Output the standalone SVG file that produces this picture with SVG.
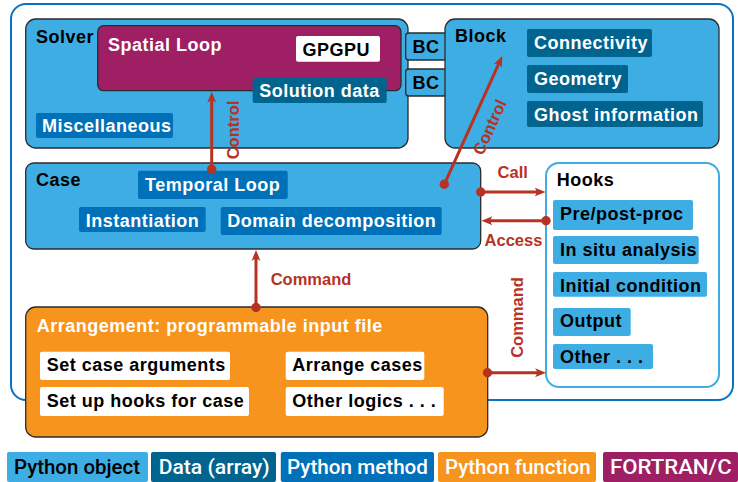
<svg xmlns="http://www.w3.org/2000/svg" width="738" height="482" viewBox="0 0 738 482">
<defs>
<style>
.t{font-family:"Liberation Sans",Arial,sans-serif;font-weight:bold;font-size:18px;letter-spacing:0.5px}
.w{fill:#ffffff}
.k{fill:#000000}
.lbl{font-family:"Liberation Sans",Arial,sans-serif;font-weight:bold;font-size:16.5px;fill:#b83223}
.obj{fill:#3eade3}
.data{fill:#00648f}
.meth{fill:#0070b8}
.func{fill:#f7941d}
.fort{fill:#9e1f63}
.cont{stroke:#2b2b2b;stroke-width:1.3}
.item{rx:2;ry:2}
.con{stroke:#b83223;stroke-width:3;fill:none}
.dot{fill:#b83223}
.leg{font-family:Roboto,"Liberation Sans",sans-serif;font-weight:500;font-size:20px}
</style>
<marker id="ah" markerUnits="userSpaceOnUse" viewBox="0 -5 12 10" markerWidth="12" markerHeight="10" refX="2.5" refY="0" orient="auto">
<path d="M11 0 L0 -4.5 Q4 0 0 4.5 Z" fill="#b83223"/>
</marker>
</defs>

<rect id="frame" x="11" y="4" width="722" height="396" rx="15" fill="#ffffff" stroke="#0a72c2" stroke-width="2"/>

<g id="solver">
<rect class="obj cont" x="25.7" y="19" width="382.3" height="129" rx="10"/>
<text class="t k" x="36" y="43.3">Solver</text>
</g>
<g id="spatial-loop">
<rect class="fort cont" x="97.7" y="25.7" width="303.3" height="65" rx="6"/>
<text class="t w" x="108" y="50.5">Spatial Loop</text>
</g>
<g id="gpgpu">
<rect class="item" fill="#ffffff" x="296" y="36" width="84" height="25.7"/>
<text class="t k" x="302.5" y="55.5">GPGPU</text>
</g>
<g id="solution-data">
<rect class="data item" x="252.7" y="78" width="134" height="25"/>
<text class="t w" x="259.3" y="97.3">Solution data</text>
</g>
<g id="miscellaneous">
<rect class="meth item" x="36" y="113" width="137" height="25"/>
<text class="t w" x="42" y="132.3">Miscellaneous</text>
</g>

<g id="bc1">
<rect class="obj cont" x="405.7" y="33" width="41" height="27" rx="3"/>
<text class="t k" x="412.5" y="53.3">BC</text>
</g>
<g id="bc2">
<rect class="obj cont" x="405.7" y="69" width="41" height="27" rx="3"/>
<text class="t k" x="412.5" y="89.3">BC</text>
</g>

<g id="block">
<rect class="obj cont" x="445" y="19" width="274" height="129" rx="10"/>
<text class="t k" x="455" y="42.3">Block</text>
</g>
<g id="connectivity">
<rect class="data item" x="527" y="29" width="125" height="28"/>
<text class="t w" x="534" y="49">Connectivity</text>
</g>
<g id="geometry">
<rect class="data item" x="527" y="65" width="101" height="28"/>
<text class="t w" x="534" y="85">Geometry</text>
</g>
<g id="ghost-information">
<rect class="data item" x="527" y="101" width="176" height="26"/>
<text class="t w" x="534" y="120.7">Ghost information</text>
</g>

<g id="case">
<rect class="obj cont" x="25.7" y="163" width="455" height="86" rx="8"/>
<text class="t k" x="36" y="186">Case</text>
</g>
<g id="temporal-loop">
<rect class="meth item" x="138" y="170.7" width="149.7" height="28.3"/>
<text class="t w" x="145" y="191">Temporal Loop</text>
</g>
<g id="instantiation">
<rect class="meth item" x="79" y="207" width="126.7" height="25"/>
<text class="t w" x="85.7" y="226.7">Instantiation</text>
</g>
<g id="domain-decomposition">
<rect class="meth item" x="220.7" y="207" width="221" height="28"/>
<text class="t w" x="227.3" y="226.7">Domain decomposition</text>
</g>

<g id="hooks">
<rect x="546" y="163" width="173" height="224" rx="13" fill="#ffffff" stroke="#3eade3" stroke-width="2"/>
<text class="t k" x="556.7" y="186">Hooks</text>
</g>
<g id="pre-post-proc">
<rect class="obj item" x="553" y="200" width="140" height="30"/>
<text class="t k" x="560" y="220">Pre/post-proc</text>
</g>
<g id="in-situ-analysis">
<rect class="obj item" x="553" y="236" width="145.7" height="28"/>
<text class="t k" x="560" y="256">In situ analysis</text>
</g>
<g id="initial-condition">
<rect class="obj item" x="553" y="272" width="154" height="24.7"/>
<text class="t k" x="560" y="291.7">Initial condition</text>
</g>
<g id="output">
<rect class="obj item" x="553" y="308" width="77.7" height="28"/>
<text class="t k" x="560" y="327.3">Output</text>
</g>
<g id="other-hooks">
<rect class="obj item" x="553" y="344" width="100" height="25"/>
<text class="t k" x="560" y="363.3">Other . . .</text>
</g>

<g id="arrangement">
<rect class="func cont" x="25.7" y="307" width="462" height="130" rx="10"/>
<text class="t w" x="36.7" y="332">Arrangement: programmable input file</text>
</g>
<g id="set-case-arguments">
<rect class="item" fill="#ffffff" x="40" y="351.7" width="190" height="28.3"/>
<text class="t k" x="46.7" y="370.7">Set case arguments</text>
</g>
<g id="set-up-hooks">
<rect class="item" fill="#ffffff" x="40" y="387" width="209" height="29"/>
<text class="t k" x="46.7" y="406.7">Set up hooks for case</text>
</g>
<g id="arrange-cases">
<rect class="item" fill="#ffffff" x="285.7" y="351.7" width="138.6" height="28.3"/>
<text class="t k" x="292.3" y="370.7">Arrange cases</text>
</g>
<g id="other-logics">
<rect class="item" fill="#ffffff" x="285.7" y="387" width="158" height="29"/>
<text class="t k" x="292.3" y="406.7">Other logics . . .</text>
</g>

<g id="connectors">
<line class="con" x1="211.7" y1="169.3" x2="211.7" y2="100.2" marker-end="url(#ah)"/>
<circle class="dot" cx="211.7" cy="169.3" r="4.7"/>
<text class="lbl" text-anchor="middle" transform="translate(232.5,130) rotate(-90)" x="0" y="6">Control</text>

<line class="con" x1="444.3" y1="184.3" x2="498.8" y2="63.7" marker-end="url(#ah)"/>
<circle class="dot" cx="444.3" cy="184.3" r="4.7"/>
<text class="lbl" text-anchor="middle" transform="translate(489.5,127) rotate(-65.6)" x="0" y="6">Control</text>

<line class="con" x1="480.7" y1="192" x2="537" y2="192" marker-end="url(#ah)"/>
<circle class="dot" cx="480.7" cy="192" r="4.7"/>
<text class="lbl" text-anchor="middle" x="512.7" y="178.3">Call</text>

<line class="con" x1="546" y1="220.7" x2="490" y2="220.7" marker-end="url(#ah)"/>
<circle class="dot" cx="546" cy="220.7" r="4.7"/>
<text class="lbl" text-anchor="middle" x="513.5" y="246">Access</text>

<line class="con" x1="256" y1="307.5" x2="256" y2="258.5" marker-end="url(#ah)"/>
<circle class="dot" cx="256" cy="307.5" r="4.7"/>
<text class="lbl" x="270.7" y="285">Command</text>

<line class="con" x1="487.5" y1="372.7" x2="537.5" y2="372.7" marker-end="url(#ah)"/>
<circle class="dot" cx="487.5" cy="372.7" r="4.7"/>
<text class="lbl" text-anchor="middle" transform="translate(516.7,317.5) rotate(-90)" x="0" y="6">Command</text>
</g>

<g id="legend">
<rect class="obj item" x="7" y="452" width="141" height="30"/>
<text class="leg k" x="14" y="474.3" textLength="126" lengthAdjust="spacingAndGlyphs">Python object</text>
<rect class="data item" x="151" y="452" width="125" height="30"/>
<text class="leg w" x="158.7" y="474.3" textLength="111" lengthAdjust="spacingAndGlyphs">Data (array)</text>
<rect class="meth item" x="280.8" y="452" width="153.2" height="30"/>
<text class="leg w" x="287" y="474.3" textLength="141" lengthAdjust="spacingAndGlyphs">Python method</text>
<rect class="func item" x="438" y="452" width="158" height="30"/>
<text class="leg w" x="445" y="474.3" textLength="145.6" lengthAdjust="spacingAndGlyphs">Python function</text>
<rect class="fort item" x="603" y="452" width="135" height="30"/>
<text class="leg w" x="610" y="474.3" textLength="121.7" lengthAdjust="spacingAndGlyphs">FORTRAN/C</text>
</g>
</svg>
